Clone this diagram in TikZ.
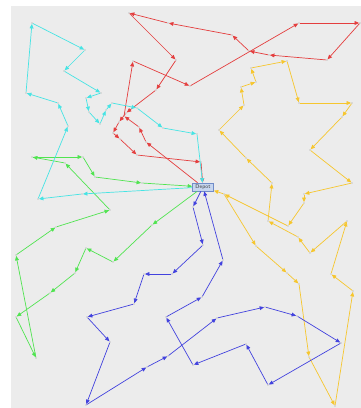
\documentclass[tikz,border=0pt]{standalone}
\usepackage{tikz}
\usetikzlibrary{arrows.meta}
\definecolor{rtred}{RGB}{228,62,62}
\definecolor{rtcyan}{RGB}{70,228,228}
\definecolor{rtgreen}{RGB}{80,228,80}
\definecolor{rtblue}{RGB}{66,66,222}
\definecolor{rtyellow}{RGB}{246,198,46}
\definecolor{bggray}{RGB}{236,236,236}
\definecolor{depotfill}{RGB}{198,214,240}
\definecolor{depotline}{RGB}{112,140,200}

\begin{document}
\begin{tikzpicture}[
  x=1pt, y=-1pt,
  cust/.style={circle, fill=gray!75, inner sep=0pt, minimum size=1.4pt},
  depotbox/.style={draw=depotline, fill=depotfill, line width=0.6pt, inner sep=0.6pt, minimum width=21pt, minimum height=8pt, font=\sffamily\fontsize{5.5}{6}\selectfont, text=black!75},
  route/.style={draw=#1, line width=0.7pt, -{Triangle[length=4.5pt,width=3.8pt]}}
]
\useasboundingbox (0,0) rectangle (361,408);
\fill[bggray] (11,6) rectangle (361,408);

\node[depotbox] (depot) at (203,187) {Depot};

% customers, red tour
\node[cust] (r1) at (146,142) {};
\node[cust] (r2) at (139,127) {};
\node[cust] (r3) at (124,116) {};
\node[cust] (r4) at (133,61) {};
\node[cust] (r5) at (190,86) {};
\node[cust] (r6) at (299,23) {};
\node[cust] (r7) at (360,23) {};
\node[cust] (r8) at (327,60) {};
\node[cust] (r9) at (269,55) {};
\node[cust] (r10) at (249,51) {};
\node[cust] (r11) at (232,35) {};
\node[cust] (r12) at (168,23) {};
\node[cust] (r13) at (129,13) {};
\node[cust] (r14) at (176,60) {};
\node[cust] (r15) at (156,90) {};
\node[cust] (r16) at (126,113) {};
\node[cust] (r17) at (119,122) {};
\node[cust] (r18) at (113,133) {};
\node[cust] (r19) at (120,139) {};
\node[cust] (r20) at (137,155) {};
\node[cust] (r21) at (201,162) {};

% customers, cyan tour
\node[cust] (c1) at (82,194) {};
\node[cust] (c2) at (38,199) {};
\node[cust] (c3) at (68,126) {};
\node[cust] (c4) at (58,103) {};
\node[cust] (c5) at (26,93) {};
\node[cust] (c6) at (32,23) {};
\node[cust] (c7) at (85,50) {};
\node[cust] (c8) at (64,71) {};
\node[cust] (c9) at (101,93) {};
\node[cust] (c10) at (86,98) {};
\node[cust] (c11) at (89,112) {};
\node[cust] (c12) at (100,124) {};
\node[cust] (c13) at (106,110) {};
\node[cust] (c14) at (112,103) {};
\node[cust] (c15) at (137,108) {};
\node[cust] (c16) at (163,128) {};
\node[cust] (c17) at (197,134) {};

% customers, green tour
\node[cust] (g1) at (152,225) {};
\node[cust] (g2) at (113,262) {};
\node[cust] (g3) at (86,248) {};
\node[cust] (g4) at (75,273) {};
\node[cust] (g5) at (50,293) {};
\node[cust] (g6) at (16,317) {};
\node[cust] (g7) at (36,358) {};
\node[cust] (g8) at (16,255) {};
\node[cust] (g9) at (56,227) {};
\node[cust] (g10) at (110,210) {};
\node[cust] (g11) at (65,163) {};
\node[cust] (g12) at (32,157) {};
\node[cust] (g13) at (83,157) {};
\node[cust] (g14) at (95,177) {};
\node[cust] (g15) at (142,183) {};

% customers, blue tour
\node[cust] (b1) at (193,207) {};
\node[cust] (b2) at (203,245) {};
\node[cust] (b3) at (172,274) {};
\node[cust] (b4) at (144,274) {};
\node[cust] (b5) at (134,304) {};
\node[cust] (b6) at (87,317) {};
\node[cust] (b7) at (110,342) {};
\node[cust] (b8) at (86,405) {};
\node[cust] (b9) at (147,367) {};
\node[cust] (b10) at (168,356) {};
\node[cust] (b11) at (217,318) {};
\node[cust] (b12) at (265,307) {};
\node[cust] (b13) at (297,316) {};
\node[cust] (b14) at (341,343) {};
\node[cust] (b15) at (268,385) {};
\node[cust] (b16) at (246,344) {};
\node[cust] (b17) at (193,365) {};
\node[cust] (b18) at (166,317) {};
\node[cust] (b19) at (202,297) {};
\node[cust] (b20) at (223,260) {};

% customers, yellow tour
\node[cust] (y1) at (224,194) {};
\node[cust] (y2) at (256,246) {};
\node[cust] (y3) at (287,273) {};
\node[cust] (y4) at (299,284) {};
\node[cust] (y5) at (309,357) {};
\node[cust] (y6) at (335,406) {};
\node[cust] (y7) at (353,291) {};
\node[cust] (y8) at (331,274) {};
\node[cust] (y9) at (347,221) {};
\node[cust] (y10) at (310,253) {};
\node[cust] (y11) at (298,237) {};
\node[cust] (y12) at (268,221) {};
\node[cust] (y13) at (272,183) {};
\node[cust] (y14) at (246,158) {};
\node[cust] (y15) at (219,130) {};
\node[cust] (y16) at (244,105) {};
\node[cust] (y17) at (241,87) {};
\node[cust] (y18) at (256,82) {};
\node[cust] (y19) at (251,68) {};
\node[cust] (y20) at (287,61) {};
\node[cust] (y21) at (299,103) {};
\node[cust] (y22) at (352,103) {};
\node[cust] (y23) at (342,117) {};
\node[cust] (y24) at (310,150) {};
\node[cust] (y25) at (352,183) {};
\node[cust] (y26) at (304,194) {};
\node[cust] (y27) at (304,203) {};
\node[cust] (y28) at (288,226) {};

% tours
\foreach \a/\b in {depot/r1,r1/r2,r2/r3,r3/r4,r4/r5,r5/r6,r6/r7,r7/r8,r8/r9,r9/r10,r10/r11,r11/r12,r12/r13,r13/r14,r14/r15,r15/r16,r16/r17,r17/r18,r18/r19,r19/r20,r20/r21,r21/depot}
  \draw[route=rtred] (\a) -- (\b);
\foreach \a/\b in {y1/y2,y2/y3,y3/y4,y4/y5,y5/y6,y6/y7,y7/y8,y8/y9,y9/y10,y10/y11,y11/y12,y12/y13,y13/y14,y14/y15,y15/y16,y16/y17,y17/y18,y18/y19,y19/y20,y20/y21,y21/y22,y22/y23,y23/y24,y24/y25,y25/y26,y26/y27,y27/y28,y28/y1,y1/depot}
  \draw[route=rtyellow] (\a) -- (\b);
\foreach \a/\b in {depot/g1,g1/g2,g2/g3,g3/g4,g4/g5,g5/g6,g6/g7,g7/g8,g8/g9,g9/g10,g10/g11,g11/g12,g12/g13,g13/g14,g14/g15,g15/depot}
  \draw[route=rtgreen] (\a) -- (\b);
\foreach \a/\b in {depot/b1,b1/b2,b2/b3,b3/b4,b4/b5,b5/b6,b6/b7,b7/b8,b8/b9,b9/b10,b10/b11,b11/b12,b12/b13,b13/b14,b14/b15,b15/b16,b16/b17,b17/b18,b18/b19,b19/b20,b20/depot}
  \draw[route=rtblue] (\a) -- (\b);
\foreach \a/\b in {depot/c1,c1/c2,c2/c3,c3/c4,c4/c5,c5/c6,c6/c7,c7/c8,c8/c9,c9/c10,c10/c11,c11/c12,c12/c13,c13/c14,c14/c15,c15/c16,c16/c17,c17/depot}
  \draw[route=rtcyan] (\a) -- (\b);
\end{tikzpicture}
\end{document}
